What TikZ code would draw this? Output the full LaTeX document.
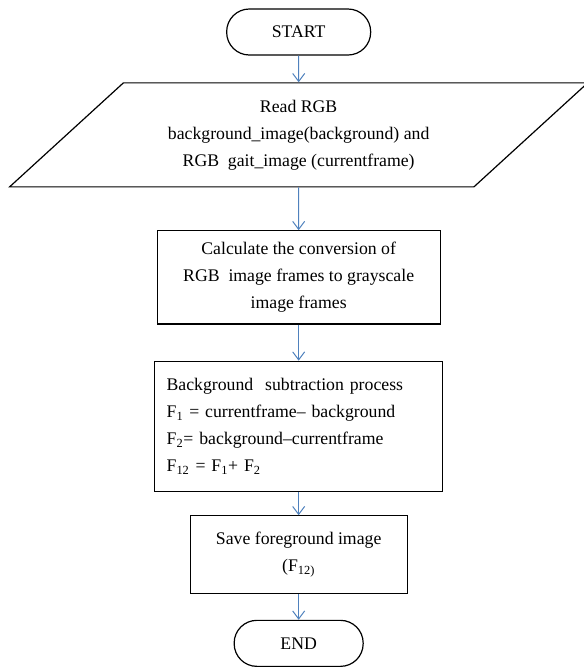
\documentclass[tikz,border=0pt]{standalone}
\usepackage{fontspec}
\setmainfont{Liberation Serif}
\usepackage{tikz}
\usetikzlibrary{arrows.meta, positioning, shapes.geometric}

\definecolor{arrowblue}{RGB}{79,129,189}

\begin{document}
\begin{tikzpicture}[
        every node/.style={draw, line width=0.9pt, align=center,
            font=\fontsize{13.3}{20.25}\selectfont},
        terminal/.style={rectangle, rounded corners=17pt, minimum width=100pt, minimum height=34.5pt},
        io/.style={trapezium, trapezium left angle=42, trapezium right angle=138,
            trapezium stretches=true, minimum width=435.75pt, minimum height=78pt},
        process/.style={rectangle, minimum height=70pt},
        flow/.style={draw=arrowblue, line width=0.75pt, -{Straight Barb[length=6pt,width=9pt]}}
    ]
        \useasboundingbox (0,0) rectangle (438pt,-501.75pt);

        % Các khối
        \node [terminal, minimum width=108pt](start) at (224pt,-24pt) {START};
        \node [io, below=20pt of start](read) {Read RGB\\
            background\_image(background) and\\
            RGB\ \ gait\_image (currentframe)};
        \node [process, minimum width=212.25pt, below=32pt of read](conv) {Calculate\ the conversion of\\
            RGB\ \ image frames\ to grayscale\\
            image frames};
        \node [process, minimum height=97.5pt, text width=198pt, inner xsep=9pt, align=left,
            below=27pt of conv](sub) {Background\ \ subtraction process\\
            F\textsubscript{1} = currentframe--\ background\\
            F\textsubscript{2}= background--currentframe\\
            F\textsubscript{12} = F\textsubscript{1}+ F\textsubscript{2}};
        \node [process, minimum width=162.75pt, minimum height=58pt, below=17.5pt of sub](save) {Save foreground image\\
            (F\textsubscript{12)}};
        \node [terminal, minimum width=96.75pt, minimum height=34.5pt, below=19.5pt of save](end) {END};

        % Các mũi tên
        \draw[flow] (start) -- (read);
        \draw[flow] (read) -- (conv);
        \draw[flow] (conv) -- (sub);
        \draw[flow] (sub) -- (save);
        \draw[flow] (save) -- (end);
    \end{tikzpicture}
\end{document}
